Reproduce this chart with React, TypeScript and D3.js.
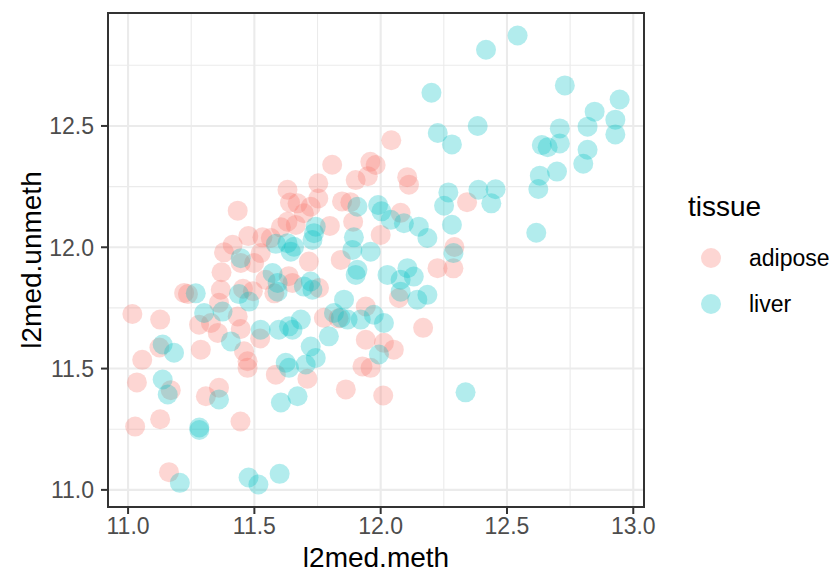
import React, { useEffect, useRef } from 'react';
import * as d3 from 'd3';

// adipose samples (l2med.meth, l2med.unmeth)
const adiposeMeth = [
  12.042, 11.808, 11.959, 11.980, 11.949, 11.901, 11.753, 12.105, 12.112, 11.631,
  11.641, 11.753, 11.723, 11.847, 11.880, 12.342, 11.434, 12.079, 11.891, 11.799,
  11.671, 11.696, 11.664, 11.631, 11.605, 12.000, 11.476, 11.532, 11.565, 11.414,
  11.380, 11.525, 11.499, 11.446, 11.716, 11.842, 12.292, 12.225, 12.288, 11.370,
  11.651, 11.544, 11.756, 11.367, 11.455, 11.494, 11.579, 11.222, 12.072, 11.941,
  11.360, 11.017, 11.127, 11.281, 11.328, 11.355, 11.434, 11.446, 11.288, 11.459,
  11.473, 11.473, 11.585, 11.308, 11.360, 11.775, 11.941, 12.013, 12.052, 12.168,
  11.928, 11.960, 11.862, 12.010, 11.710, 11.056, 11.124, 11.035, 11.169, 11.028,
  11.127, 11.445, 11.162, 11.523, 11.833, 11.237, 11.636,
];
const adiposeUnmeth = [
  12.441, 12.340, 12.352, 12.339, 12.293, 12.277, 12.264, 12.289, 12.258, 12.237,
  12.184, 12.201, 12.167, 12.189, 12.186, 12.186, 12.151, 12.142, 12.105, 12.088,
  12.181, 12.140, 12.092, 12.105, 12.082, 12.051, 12.046, 12.041, 12.038, 12.010,
  11.979, 11.976, 11.935, 11.935, 11.941, 11.948, 12.001, 11.914, 11.913, 11.897,
  11.853, 11.866, 11.832, 11.825, 11.829, 11.819, 11.810, 11.812, 11.791, 11.756,
  11.771, 11.725, 11.702, 11.681, 11.688, 11.647, 11.715, 11.663, 11.578, 11.571,
  11.530, 11.503, 11.475, 11.386, 11.421, 11.709, 11.619, 11.606, 11.578, 11.668,
  11.509, 11.503, 11.414, 11.389, 11.458, 11.536, 11.587, 11.443, 11.411, 11.261,
  11.291, 11.282, 11.073, 11.624, 11.707, 11.807, 11.881,
];

// liver samples
const liverMeth = [
  12.542, 12.417, 12.201, 12.729, 12.946, 12.847, 12.709, 12.819, 12.929, 12.929,
  12.384, 12.226, 12.282, 12.638, 12.661, 12.709, 12.819, 12.802, 12.698, 12.630,
  12.624, 12.268, 12.251, 12.387, 12.455, 12.438, 12.282, 12.616, 12.336, 11.908,
  11.990, 12.003, 12.040, 12.092, 12.151, 12.185, 11.894, 11.888, 11.960, 11.743,
  11.736, 11.730, 11.908, 11.901, 12.027, 12.106, 12.131, 12.079, 11.723, 11.657,
  11.446, 11.585, 11.631, 11.644, 11.572, 11.592, 11.268, 11.439, 11.479, 11.592,
  11.301, 11.374, 11.407, 11.525, 11.597, 11.637, 11.651, 11.182, 11.137, 11.624,
  11.637, 11.157, 11.360, 11.605, 11.671, 11.137, 11.855, 11.815, 11.842, 11.869,
  11.921, 11.973, 12.013, 11.795, 11.723, 11.743, 11.703, 11.993, 12.079, 12.145,
  12.185, 11.696, 11.684, 11.730, 11.282, 11.282, 11.205, 11.477, 11.516, 11.600,
  12.288,
];
const liverUnmeth = [
  12.873, 12.814, 12.637, 12.667, 12.609, 12.559, 12.490, 12.497, 12.526, 12.465,
  12.500, 12.471, 12.424, 12.421, 12.412, 12.428, 12.402, 12.344, 12.312, 12.295,
  12.240, 12.226, 12.171, 12.237, 12.239, 12.181, 12.093, 12.060, 11.402, 12.167,
  12.174, 12.148, 12.113, 12.099, 12.085, 12.038, 12.041, 11.989, 11.982, 12.085,
  12.058, 12.030, 11.907, 11.886, 11.886, 11.914, 11.879, 11.866, 11.859, 12.002,
  11.955, 12.014, 12.017, 11.982, 11.894, 11.853, 11.810, 11.807, 11.776, 11.817,
  11.729, 11.735, 11.612, 11.660, 11.660, 11.674, 11.660, 11.565, 11.599, 11.524,
  11.503, 11.393, 11.373, 11.360, 11.386, 11.455, 11.784, 11.729, 11.709, 11.702,
  11.702, 11.722, 11.688, 11.633, 11.591, 11.544, 11.517, 11.558, 11.817, 11.784,
  11.804, 11.838, 11.702, 11.825, 11.257, 11.247, 11.029, 11.051, 11.022, 11.066,
  11.976,
];

const tissues = ['adipose', 'liver'];
const tissueColors = ['#F8766D', '#00BFC4'];
const xTicks = [11.0, 11.5, 12.0, 12.5, 13.0];
const yTicks = [11.0, 11.5, 12.0, 12.5];

const ScatterChart = () => {
  const ref = useRef<SVGSVGElement | null>(null);

  useEffect(() => {
    if (!ref.current) return;
    const width = 834;
    const height = 574;
    const panel = { left: 108, right: 644, top: 13, bottom: 507 };
    const font = '"Liberation Sans", Arial, Helvetica, sans-serif';

    const svg = d3.select(ref.current);
    svg.selectAll('*').remove();
    svg.attr('width', width).attr('height', height);

    const data = [
      ...adiposeMeth.map((m, i) => ({ meth: m, unmeth: adiposeUnmeth[i], tissue: 'adipose' })),
      ...liverMeth.map((m, i) => ({ meth: m, unmeth: liverUnmeth[i], tissue: 'liver' })),
    ];

    // ggplot style 5% expansion
    const expand = (ext: [number, number]) => {
      const pad = (ext[1] - ext[0]) * 0.05;
      return [ext[0] - pad, ext[1] + pad];
    };
    const x = d3.scaleLinear()
      .domain(expand(d3.extent(data, d => d.meth) as [number, number]))
      .range([panel.left, panel.right]);
    const y = d3.scaleLinear()
      .domain(expand(d3.extent(data, d => d.unmeth) as [number, number]))
      .range([panel.bottom, panel.top]);
    const color = d3.scaleOrdinal<string, string>().domain(tissues).range(tissueColors);

    // panel background + grid
    svg.append('rect')
      .attr('x', panel.left).attr('y', panel.top)
      .attr('width', panel.right - panel.left).attr('height', panel.bottom - panel.top)
      .attr('fill', 'white');

    const xMinor = xTicks.slice(0, -1).map(t => t + 0.25);
    const yMinor = yTicks.map(t => t + 0.25);
    const grid = svg.append('g');
    grid.selectAll('.xminor').data(xMinor).join('line')
      .attr('x1', d => x(d)).attr('x2', d => x(d))
      .attr('y1', panel.top).attr('y2', panel.bottom)
      .attr('stroke', '#EBEBEB').attr('stroke-width', 1.1);
    grid.selectAll('.yminor').data(yMinor).join('line')
      .attr('y1', d => y(d)).attr('y2', d => y(d))
      .attr('x1', panel.left).attr('x2', panel.right)
      .attr('stroke', '#EBEBEB').attr('stroke-width', 1.1);
    grid.selectAll('.xmajor').data(xTicks).join('line')
      .attr('x1', d => x(d)).attr('x2', d => x(d))
      .attr('y1', panel.top).attr('y2', panel.bottom)
      .attr('stroke', '#EBEBEB').attr('stroke-width', 2.1);
    grid.selectAll('.ymajor').data(yTicks).join('line')
      .attr('y1', d => y(d)).attr('y2', d => y(d))
      .attr('x1', panel.left).attr('x2', panel.right)
      .attr('stroke', '#EBEBEB').attr('stroke-width', 2.1);

    // points
    svg.append('g')
      .selectAll('circle')
      .data(data)
      .join('circle')
      .attr('cx', d => x(d.meth))
      .attr('cy', d => y(d.unmeth))
      .attr('r', 10)
      .attr('fill', d => color(d.tissue))
      .attr('fill-opacity', 0.3);

    // border
    svg.append('rect')
      .attr('x', panel.left).attr('y', panel.top)
      .attr('width', panel.right - panel.left).attr('height', panel.bottom - panel.top)
      .attr('fill', 'none').attr('stroke', '#333333').attr('stroke-width', 2);

    // axes
    const xAxis = svg.append('g');
    xAxis.selectAll('line').data(xTicks).join('line')
      .attr('x1', d => x(d)).attr('x2', d => x(d))
      .attr('y1', panel.bottom).attr('y2', panel.bottom + 7)
      .attr('stroke', '#333333').attr('stroke-width', 2);
    xAxis.selectAll('text').data(xTicks).join('text')
      .attr('x', d => x(d)).attr('y', 534)
      .attr('text-anchor', 'middle')
      .style('font-family', font).style('font-size', '23px')
      .attr('fill', '#4D4D4D')
      .text(d => d.toFixed(1));

    const yAxis = svg.append('g');
    yAxis.selectAll('line').data(yTicks).join('line')
      .attr('y1', d => y(d)).attr('y2', d => y(d))
      .attr('x1', panel.left - 7).attr('x2', panel.left)
      .attr('stroke', '#333333').attr('stroke-width', 2);
    yAxis.selectAll('text').data(yTicks).join('text')
      .attr('x', 94).attr('y', d => y(d))
      .attr('dy', '0.36em')
      .attr('text-anchor', 'end')
      .style('font-family', font).style('font-size', '23px')
      .attr('fill', '#4D4D4D')
      .text(d => d.toFixed(1));

    // axis titles
    svg.append('text')
      .attr('x', (panel.left + panel.right) / 2).attr('y', 567)
      .attr('text-anchor', 'middle')
      .style('font-family', font).style('font-size', '28px')
      .text('l2med.meth');
    svg.append('text')
      .attr('transform', `translate(41, ${(panel.top + panel.bottom) / 2}) rotate(-90)`)
      .attr('text-anchor', 'middle')
      .style('font-family', font).style('font-size', '28px')
      .text('l2med.unmeth');

    // legend
    const legend = svg.append('g').attr('transform', 'translate(688, 0)');
    legend.append('text')
      .attr('x', 0).attr('y', 216)
      .style('font-family', font).style('font-size', '28px')
      .text('tissue');
    tissues.forEach((t, i) => {
      const row = legend.append('g').attr('transform', `translate(0, ${258 + i * 46})`);
      row.append('circle')
        .attr('cx', 23).attr('cy', 0).attr('r', 10)
        .attr('fill', color(t)).attr('fill-opacity', 0.3);
      row.append('text')
        .attr('x', 61).attr('y', 0).attr('dy', '0.36em')
        .style('font-family', font).style('font-size', '23px')
        .text(t);
    });
  }, []);

  return <svg ref={ref} style={{ position: 'absolute', left: 0, top: 0 }} />;
};

export default function App() {
  return <ScatterChart />;
}
